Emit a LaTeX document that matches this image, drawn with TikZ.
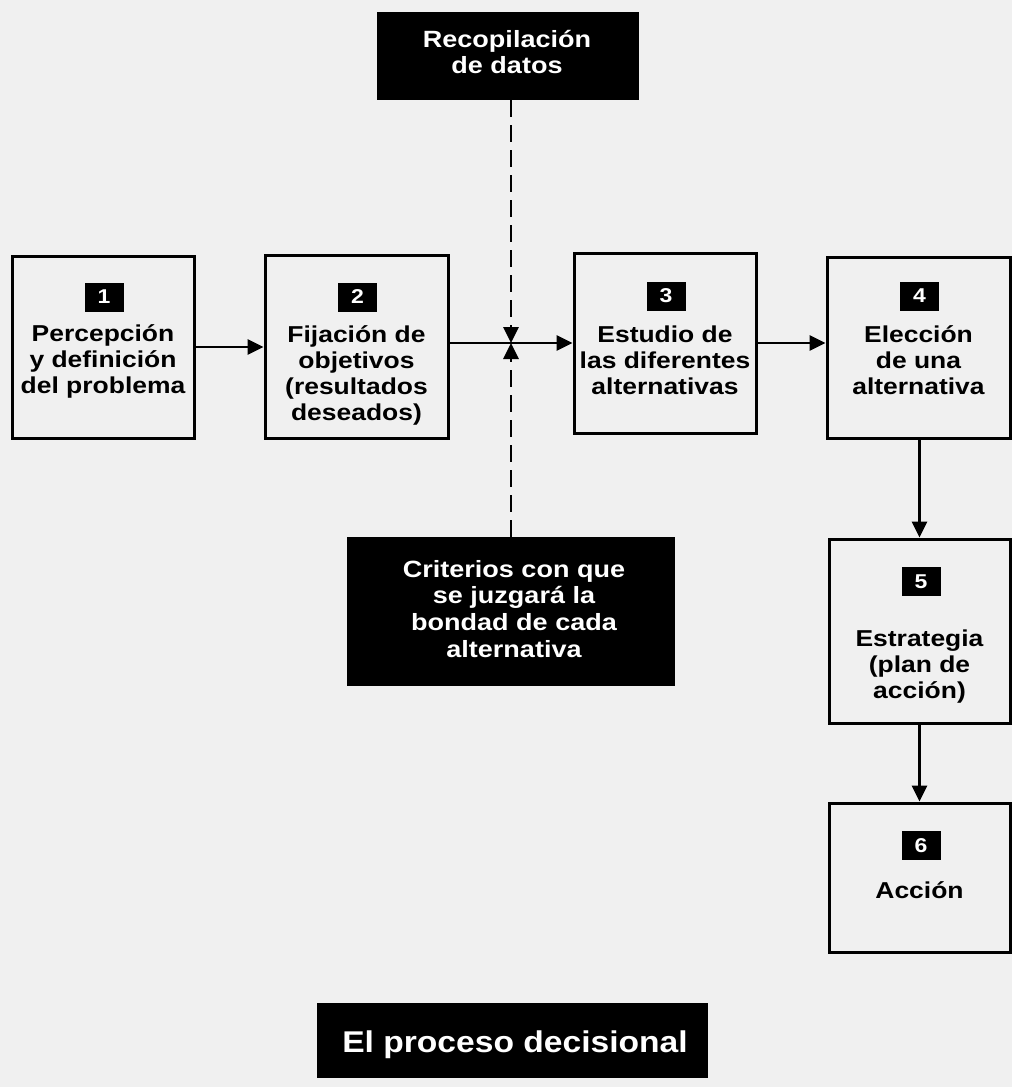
\documentclass[tikz,border=0pt]{standalone}
\usepackage{fontspec}
\setmainfont{Liberation Sans}
\newfontfamily\boxfont[FakeStretch=1.15]{Liberation Sans}
\newfontfamily\titlefont[FakeStretch=1.12]{Liberation Sans}
\usetikzlibrary{arrows.meta}
\definecolor{paper}{gray}{0.94}
\begin{document}
\begin{tikzpicture}[x=1pt,y=-1pt,
  stepbox/.style={draw=black, line width=3pt, inner sep=0pt},
  badge/.style={fill=black, text=white, minimum width=39pt, minimum height=29pt, inner sep=0pt,
    font=\boxfont\bfseries\fontsize{20}{20}\selectfont},
  btext/.style={align=center, anchor=north, inner sep=0pt,
    font=\boxfont\bfseries\fontsize{23}{26}\selectfont},
  darkbox/.style={fill=black, inner sep=0pt},
  dtext/.style={align=center, anchor=north, inner sep=0pt, text=white,
    font=\boxfont\bfseries\fontsize{23.5}{26.8}\selectfont},
  flow/.style={line width=2.8pt, -{Triangle[length=16pt,width=15pt]}},
  dflow/.style={flow, dash pattern=on 17pt off 8pt}
]
\fill[paper] (0,0) rectangle (1012,1087);
\useasboundingbox (0,0) rectangle (1012,1087);

% main boxes
\node[stepbox, minimum width=182pt, minimum height=182pt] (b1) at (103,347) {};
\node[stepbox, minimum width=183pt, minimum height=183pt] (b2) at (356.5,346.5) {};
\node[stepbox, minimum width=182pt, minimum height=180pt] (b3) at (665,343) {};
\node[stepbox, minimum width=183pt, minimum height=181pt] (b4) at (918.5,347.5) {};
\node[stepbox, minimum width=181pt, minimum height=184pt] (b5) at (919.5,631) {};
\node[stepbox, minimum width=181pt, minimum height=149pt] (b6) at (919.5,877.5) {};

% badges
\node[badge] (n1) at (104,297) {1};
\node[badge] (n2) at (357.5,297) {2};
\node[badge] (n3) at (666,296) {3};
\node[badge] (n4) at (919.5,296) {4};
\node[badge] (n5) at (921,581.5) {5};
\node[badge] (n6) at (921,845.5) {6};

% box texts
\node[btext] (t1) at (103,322.8) {\strut Percepción\\y definición\\del problema};
\node[btext] (t2) at (356.5,323.8) {\strut Fijación de\\objetivos\\(resultados\\deseados)};
\node[btext] (t3) at (665,323.8) {\strut Estudio de\\las diferentes\\alternativas};
\node[btext] (t4) at (918.5,323.8) {\strut Elección\\de una\\alternativa};
\node[btext] (t5) at (919.5,627.8) {\strut Estrategia\\(plan de\\acción)};
\node[btext] (t6) at (919.5,879.8) {\strut Acción};

% dark boxes
\node[darkbox, minimum width=262pt, minimum height=88pt] (rec) at (508,56) {};
\node[dtext] (trec) at (507,28.2) {\strut Recopilación\\de datos};
\node[darkbox, minimum width=328pt, minimum height=149pt] (crit) at (511,611.5) {};
\node[dtext] (tcrit) at (514,558.2) {\strut Criterios con que\\se juzgará la\\bondad de cada\\alternativa};
\node[darkbox, minimum width=391pt, minimum height=75pt] (tit) at (512.5,1040.5) {};
\node[text=white, inner sep=0pt, anchor=base, font=\titlefont\bfseries\fontsize{30}{30}\selectfont] (ttit) at (515,1052) {El proceso decisional};

% connectors
\coordinate (J) at (511,343);
\draw[flow] (b1.east) -- (b1.east -| b2.west);
\draw[flow] (b2.east |- J) -- (b3.west |- J);
\draw[flow] (b3.east) -- (b3.east -| b4.west);
\draw[flow] (b4.south -| b5.north) -- (b5.north);
\draw[flow] (b5.south) -- (b6.north);
\draw[dflow] (rec.south -| J) -- (J);
\draw[dflow] (crit.north -| J) -- (J);
\end{tikzpicture}
\end{document}
